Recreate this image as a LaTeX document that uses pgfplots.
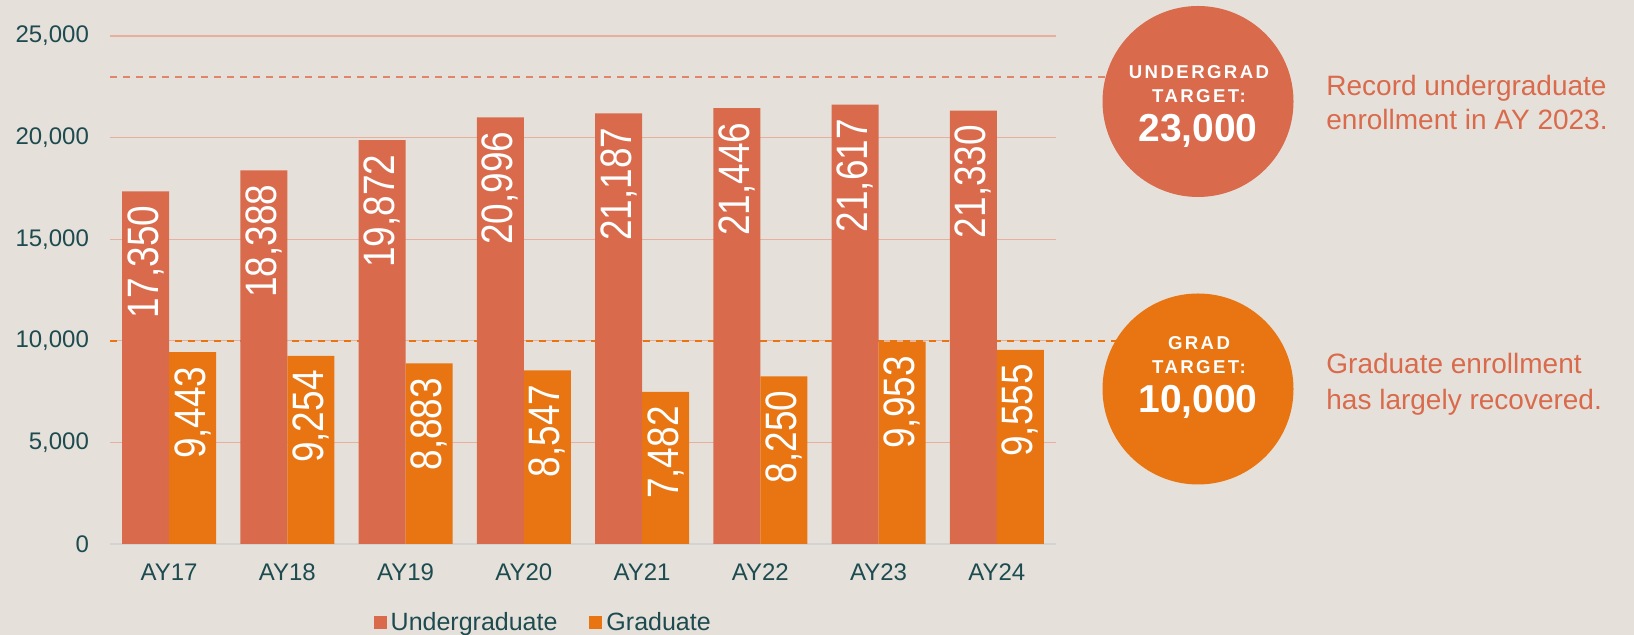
\documentclass[border=0pt]{standalone}
\usepackage{pgfplots}
\pgfplotsset{compat=1.18}
\usepackage{fontspec}
\setmainfont{Liberation Sans}
\newfontfamily\condfont[FakeStretch=0.84]{Liberation Sans}
\newfontfamily\spaced[LetterSpace=13]{Liberation Sans}

\definecolor{bg}{HTML}{E5E1DA}
\definecolor{ugc}{HTML}{D96A4C}
\definecolor{grc}{HTML}{E87511}
\definecolor{ink}{HTML}{1D4B4F}
\definecolor{gridc}{HTML}{E6B09C}
\definecolor{ugdash}{HTML}{E0856A}
\definecolor{linec}{HTML}{D3D3D3}

\begin{document}
\begin{tikzpicture}
\fill[bg] (0,0) rectangle (817pt,317.5pt);
\begin{axis}[
    at={(55pt,45.5pt)}, anchor=south west,
    scale only axis, width=473pt, height=254pt,
    xmin=-0.5, xmax=7.5, ymin=0, ymax=25000,
    ybar=0pt, bar width=23.5pt,
    clip=false,
    xtick={0,...,7},
    xticklabels={AY17,AY18,AY19,AY20,AY21,AY22,AY23,AY24},
    ytick={0,5000,...,25000},
    scaled y ticks=false,
    /pgf/number format/.cd, 1000 sep={,}, assume math mode=true,
    /pgfplots/.cd,
    major tick length=0pt,
    axis x line*=bottom, axis y line*=left,
    y axis line style={draw=none},
    x axis line style={draw=linec, line width=0.8pt, -},
    ymajorgrids, grid style={gridc, line width=0.6pt},
    tick label style={text=ink, font=\fontsize{12}{14}\selectfont},
    yticklabel style={xshift=-7pt},
    xticklabel style={yshift=-6.5pt},
    nodes near coords,
    every node near coord/.append style={rotate=90, anchor=east, text=white,
        inner xsep=7pt, inner ysep=1pt,
        font=\condfont\fontsize{22}{22}\selectfont},
    legend style={at={(0.459,-0.1555)}, anchor=center, draw=none, fill=none,
        legend columns=2, font=\fontsize{12.5}{14}\selectfont, text=ink,
        /tikz/every even column/.append style={column sep=14pt}},
    legend image code/.code={\fill[#1,draw=none] (0pt,-3.25pt) rectangle (6.5pt,3.25pt);},
]
% target lines
\draw[ugdash, line width=1pt, dash pattern=on 3.5pt off 3pt] (axis cs:-0.5,23000) -- (axis cs:8.6,23000);
\draw[grc, line width=1pt, dash pattern=on 3.5pt off 3pt] (axis cs:-0.5,10000) -- (axis cs:8.6,10000);
\addplot[fill=ugc, draw=none] coordinates {(0,17350) (1,18388) (2,19872) (3,20996) (4,21187) (5,21446) (6,21617) (7,21330)};
\addplot[fill=grc, draw=none] coordinates {(0,9443) (1,9254) (2,8883) (3,8547) (4,7482) (5,8250) (6,9953) (7,9555)};
\legend{Undergraduate, Graduate}
\end{axis}

% target badges
\fill[ugc] (599pt,266.75pt) circle (47.75pt);
\fill[grc] (599pt,123pt) circle (47.75pt);
\node[text=white, font=\spaced\bfseries\fontsize{9.3}{10}\selectfont] at (599.5pt,281.5pt) {UNDERGRAD};
\node[text=white, font=\spaced\bfseries\fontsize{9.3}{10}\selectfont] at (599.5pt,269.5pt) {TARGET:};
\node[text=white, font=\bfseries\fontsize{19.5}{22}\selectfont] at (599pt,252pt) {23,000};
\node[text=white, font=\spaced\bfseries\fontsize{9.3}{10}\selectfont] at (599.5pt,146pt) {GRAD};
\node[text=white, font=\spaced\bfseries\fontsize{9.3}{10}\selectfont] at (599.5pt,134pt) {TARGET:};
\node[text=white, font=\bfseries\fontsize{19.5}{22}\selectfont] at (599pt,116.5pt) {10,000};

% notes
\node[anchor=base west, inner sep=0pt, text=ugc, font=\fontsize{14}{16}\selectfont] at (663pt,269.5pt) {Record undergraduate};
\node[anchor=base west, inner sep=0pt, text=ugc, font=\fontsize{14}{16}\selectfont] at (663pt,252.5pt) {enrollment in AY 2023.};
\node[anchor=base west, inner sep=0pt, text=ugc, font=\fontsize{14}{16}\selectfont] at (663pt,130.5pt) {Graduate enrollment};
\node[anchor=base west, inner sep=0pt, text=ugc, font=\fontsize{14}{16}\selectfont] at (663pt,112.5pt) {has largely recovered.};

\pgfresetboundingbox
\path[use as bounding box] (0,0) rectangle (817pt,317.5pt);
\end{tikzpicture}
\end{document}
